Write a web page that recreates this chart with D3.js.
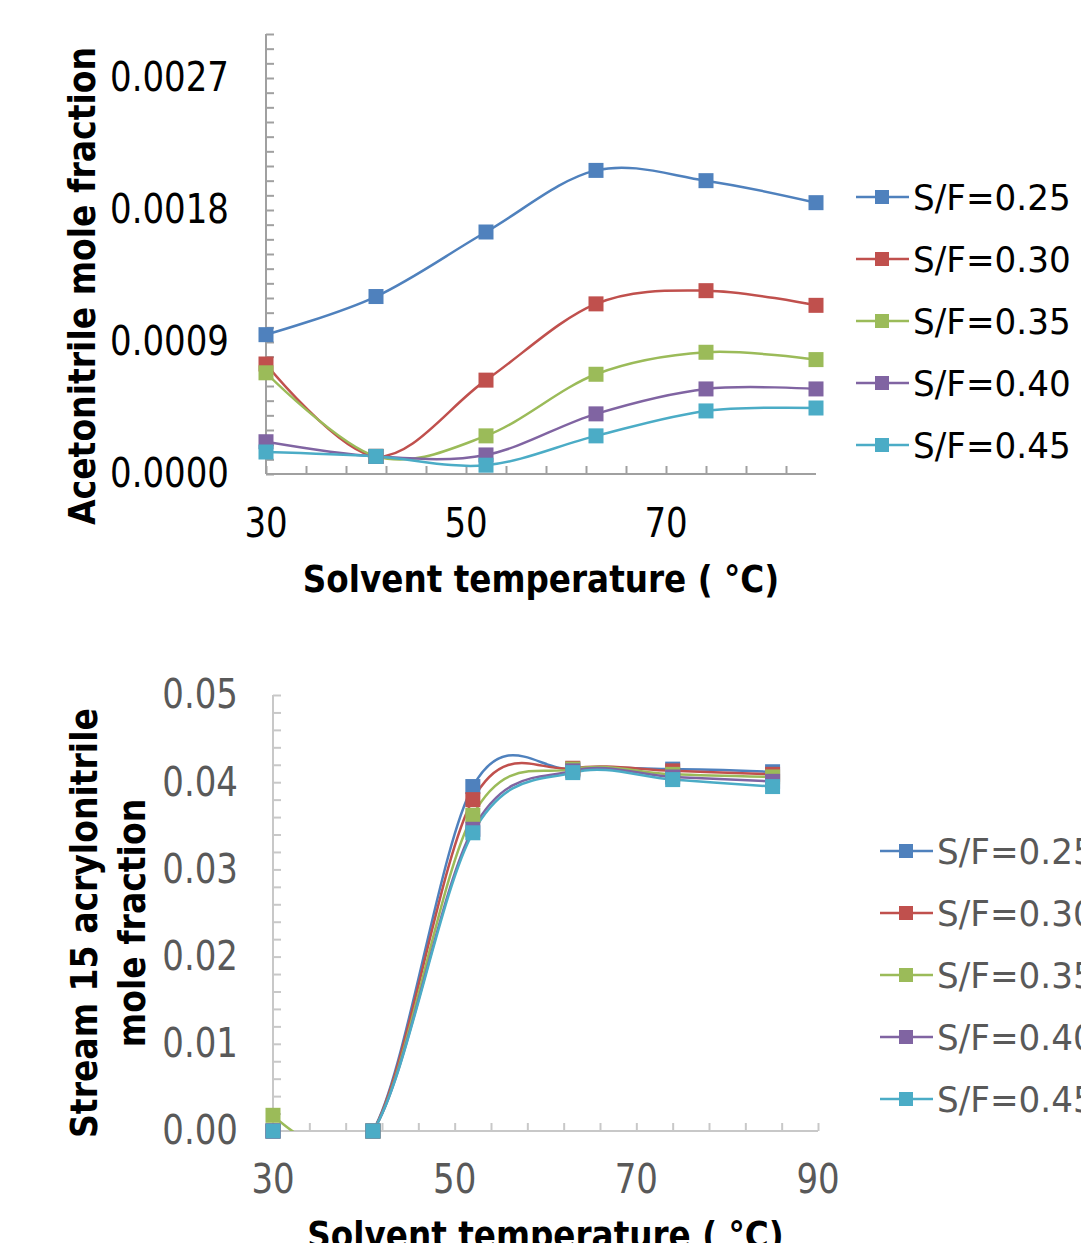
<!DOCTYPE html>
<html>
<head>
<meta charset="utf-8">
<script src="https://cdn.jsdelivr.net/npm/d3@7"></script>
<style>
  body { margin: 0; background: #fff; }
  text { font-family: "DejaVu Sans", Verdana, sans-serif; }
</style>
</head>
<body>
<svg id="chart" width="1081" height="1243"></svg>
<script>
// solvent temperatures, same for both charts
const temps = [30, 41, 52, 63, 74, 85];
const seriesNames = ["S/F=0.25", "S/F=0.30", "S/F=0.35", "S/F=0.40", "S/F=0.45"];
const colors = ["#4F81BD", "#C0504D", "#9BBB59", "#8064A2", "#4BACC6"];

// top chart: acetonitrile mole fraction
const acn025 = [0.00095, 0.00121, 0.00165, 0.00207, 0.00200, 0.00185];
const acn030 = [0.00075, 0.00012, 0.00064, 0.00116, 0.00125, 0.00115];
const acn035 = [0.00069, 0.00012, 0.00026, 0.00068, 0.00083, 0.00078];
const acn040 = [0.00022, 0.00012, 0.00013, 0.00041, 0.00058, 0.00058];
const acn045 = [0.00015, 0.00012, 0.00006, 0.00026, 0.00043, 0.00045];

// bottom chart: stream 15 acrylonitrile mole fraction
const acr025 = [0, 0, 0.0395, 0.0415, 0.0415, 0.0412];
const acr030 = [0, 0, 0.0380, 0.0416, 0.0413, 0.0409];
const acr035 = [0.0018, 0, 0.0362, 0.0415, 0.0409, 0.0406];
const acr040 = [0, 0, 0.0346, 0.0413, 0.0406, 0.0401];
const acr045 = [0, 0, 0.0342, 0.0411, 0.0403, 0.0395];

const topTicksY = [0, 0.0009, 0.0018, 0.0027];
const topTicksX = [30, 50, 70];
const botTicksY = [0, 0.01, 0.02, 0.03, 0.04, 0.05];
const botTicksX = [30, 50, 70, 90];

const svg = d3.select("#chart");

// text helper: squeezes glyphs horizontally a bit like the original
function label(g, x, y, str, o) {
    let t = g.append("text")
        .attr("transform", `translate(${x},${y}) rotate(${o.rot || 0}) scale(${o.sx || 1},1)`)
        .attr("text-anchor", o.anchor || "middle")
        .attr("dominant-baseline", o.base || "auto")
        .style("font-size", o.size + "px")
        .style("font-weight", o.bold ? "bold" : "normal")
        .attr("fill", o.fill || "#000")
        .text(str);
    return t;
}

function drawChart(cfg) {
    const g = svg.append("g");
    const x = d3.scaleLinear().domain(cfg.xDomain).range(cfg.xRange);
    const y = d3.scaleLinear().domain(cfg.yDomain).range(cfg.yRange);

    // minor ticks on y, pointing into the plot
    g.append("g")
        .attr("transform", `translate(${cfg.xRange[0]},0)`)
        .call(d3.axisLeft(y).tickValues(d3.range(cfg.yDomain[0], cfg.yDomain[1] + cfg.yMinor / 2, cfg.yMinor)).tickSize(-8).tickFormat(""))
        .call(a => a.selectAll("line,path").attr("stroke", cfg.axisColor).attr("stroke-width", 2))
        .call(a => a.select(".domain").attr("d", `M0,${cfg.yRange[1]}V${cfg.yRange[0]}`));

    // minor ticks on x, pointing up
    g.append("g")
        .attr("transform", `translate(0,${cfg.yRange[0]})`)
        .call(d3.axisBottom(x).tickValues(d3.range(cfg.xDomain[0], cfg.xDomain[1] + 0.01, 4)).tickSize(-8).tickFormat(""))
        .call(a => a.selectAll("line,path").attr("stroke", cfg.axisColor).attr("stroke-width", 2))
        .call(a => a.select(".domain").attr("d", `M${cfg.xRange[0]},0H${cfg.xRange[1]}`));

    cfg.yTicks.forEach(v => label(g, cfg.yLabelX, y(v), d3.format(cfg.yFormat)(v),
        {size: cfg.tickSize, sx: cfg.tickSx, anchor: "end", base: "central", fill: cfg.tickColor}));
    cfg.xTicks.forEach(v => label(g, x(v), cfg.xLabelY, v,
        {size: cfg.tickSize, sx: cfg.tickSx, base: "central", fill: cfg.tickColor}));

    label(g, (cfg.xRange[0] + cfg.xRange[1]) / 2, cfg.xTitleY, "Solvent temperature ( °C)",
        {size: 38, sx: 0.86, bold: true});
    cfg.yTitle.forEach((t, i) => label(g, cfg.yTitleX[i], cfg.yTitleMid, t,
        {size: 38, sx: 0.87, bold: true, rot: -90}));

    const clipId = "clip" + cfg.id;
    g.append("clipPath").attr("id", clipId).append("rect")
        .attr("x", cfg.xRange[0]).attr("y", cfg.yRange[1])
        .attr("width", cfg.xRange[1] - cfg.xRange[0] + 20).attr("height", cfg.yRange[0] - cfg.yRange[1]);

    // Excel style smoothed line
    const line = d3.line()
        .x((d, i) => x(temps[i]))
        .y(d => y(d))
        .curve(d3.curveCardinal.tension(0));

    cfg.series.forEach((s, k) => {
        g.append("path")
            .datum(s)
            .attr("clip-path", `url(#${clipId})`)
            .attr("fill", "none")
            .attr("stroke", colors[k])
            .attr("stroke-width", 2.5)
            .attr("d", line);
    });
    cfg.series.forEach((s, k) => {
        g.selectAll(null).data(s).enter().append("rect")
            .attr("x", (d, i) => x(temps[i]) - 7.5)
            .attr("y", d => y(d) - 7.5)
            .attr("width", 15).attr("height", 15)
            .attr("fill", colors[k]);
    });

    // legend
    seriesNames.forEach((n, k) => {
        const ly = cfg.legY + k * cfg.legStep;
        g.append("line")
            .attr("x1", cfg.legX).attr("x2", cfg.legX + 53)
            .attr("y1", ly).attr("y2", ly)
            .attr("stroke", colors[k]).attr("stroke-width", 2.5);
        g.append("rect")
            .attr("x", cfg.legX + 26 - 7).attr("y", ly - 7)
            .attr("width", 14).attr("height", 14)
            .attr("fill", colors[k]);
        label(g, cfg.legX + 57, ly, n, {size: 36, sx: 0.95, anchor: "start", base: "central", fill: cfg.tickColor});
    });
}

drawChart({
    id: "top",
    xDomain: [30, 85], xRange: [266, 816],
    yDomain: [0, 0.003], yRange: [474, 34],
    yMinor: 0.0001,
    axisColor: "#a0a0a0",
    yTicks: topTicksY, xTicks: topTicksX, yFormat: ".4f",
    yLabelX: 229, xLabelY: 524,
    tickSize: 40, tickSx: 0.85, tickColor: "#000",
    xTitleY: 592,
    yTitle: ["Acetonitrile mole fraction"], yTitleX: [95], yTitleMid: 286,
    series: [acn025, acn030, acn035, acn040, acn045],
    legX: 856, legY: 197, legStep: 62
});

drawChart({
    id: "bot",
    xDomain: [30, 90], xRange: [273, 818],
    yDomain: [0, 0.05], yRange: [1131, 695],
    yMinor: 0.002,
    axisColor: "#c8c8c8",
    yTicks: botTicksY, xTicks: botTicksX, yFormat: ".2f",
    yLabelX: 238, xLabelY: 1180,
    tickSize: 40, tickSx: 0.85, tickColor: "#595959",
    xTitleY: 1248,
    yTitle: ["Stream 15 acrylonitrile", "mole fraction"], yTitleX: [97, 145], yTitleMid: 923,
    series: [acr025, acr030, acr035, acr040, acr045],
    legX: 880, legY: 851, legStep: 62
});
</script>
</body>
</html>
